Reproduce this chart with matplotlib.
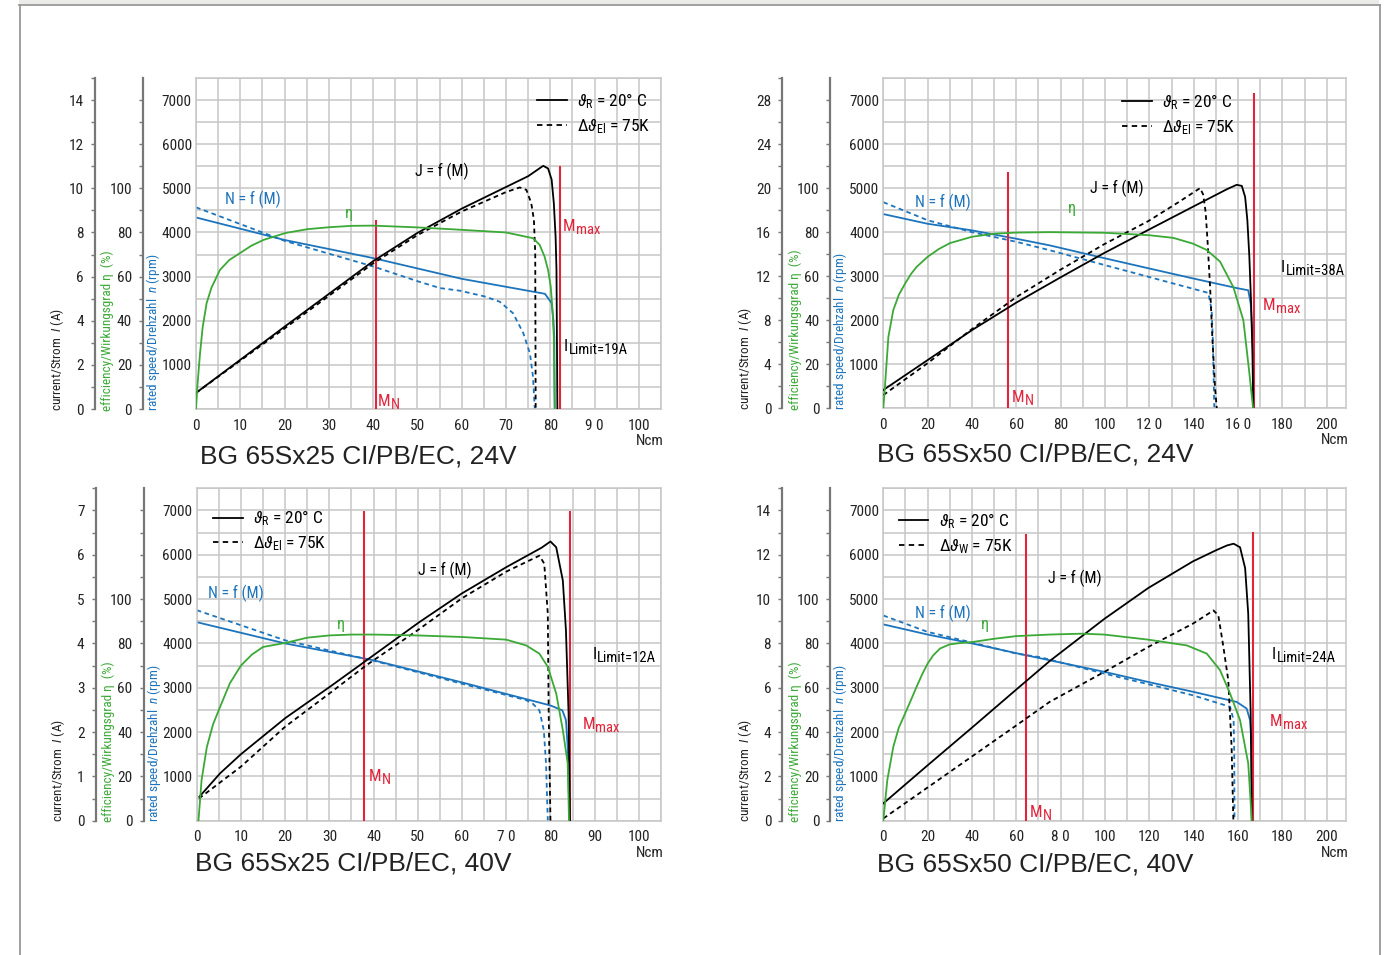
import numpy as np
import matplotlib
matplotlib.use("Agg")
import matplotlib.pyplot as plt
from matplotlib import font_manager
from matplotlib.lines import Line2D
from matplotlib.patches import Rectangle

installed = {f.name for f in font_manager.fontManager.ttflist}
NARROW = next((n for n in ["Liberation Sans Narrow", "Roboto Condensed", "Open Sans Condensed"]
               if n in installed), "DejaVu Sans")
WIDE = "Liberation Sans" if "Liberation Sans" in installed else "DejaVu Sans"
plt.rcParams["font.family"] = [NARROW, "DejaVu Sans"]
if NARROW != "DejaVu Sans":
    plt.rcParams["mathtext.fontset"] = "custom"
    plt.rcParams["mathtext.rm"] = NARROW
    plt.rcParams["mathtext.it"] = NARROW + ":italic"
    plt.rcParams["mathtext.bf"] = NARROW + ":bold"
    plt.rcParams["mathtext.sf"] = NARROW

BLUE = "#1c74bd"
GREEN = "#3aa935"
RED = "#e3233a"
GRID = "#c6c6c6"
SPINE = "#777777"
INK = "#222222"

# ---- BG 65Sx25 CI/PB/EC, 24V ----
p1_speed_m = [0, 20, 40, 60, 78.8, 80.3, 80.7, 80.9, 81.0]
p1_speed = [4340, 3830, 3420, 2950, 2610, 2400, 2020, 1640, 0]
p1_speed_hot_m = [0, 20, 40, 50.2, 55.1, 59.6, 65.2, 68.6, 71.6, 73.9, 75.4, 76.1, 76.5]
p1_speed_hot = [4570, 3810, 3230, 2890, 2740, 2680, 2550, 2430, 2170, 1720, 1260, 730, 0]
p1_cur_m = [0, 20, 40, 50, 60, 70, 75, 78.4, 79.5, 80.3, 80.8, 81.2, 81.4, 81.6]
p1_cur = [0.73, 3.73, 6.7, 7.98, 9.08, 10.06, 10.55, 11.02, 10.9, 10.4, 9.33, 7.8, 6.3, 0]
p1_cur_hot_m = [0, 20, 40, 50, 60, 70, 73.1, 74.6, 75.7, 76.3, 76.6, 76.7]
p1_cur_hot = [0.73, 3.65, 6.6, 7.88, 8.95, 9.83, 10.04, 9.93, 9.33, 8.57, 7.06, 0]
p1_eff_m = [0, 0.3, 0.9, 1.5, 2.4, 3.5, 5.4, 7.5, 10.2, 12.5, 15.2, 20.3, 25.2, 30.2, 35.2,
            40, 50, 60, 70, 76.1, 77.6, 78.7, 79.5, 80.1, 80.5, 80.8, 81.0]
p1_eff = [0, 10, 25, 37, 48, 55, 63, 67.5, 71, 74, 76.6, 79.8, 81.5, 82.4, 83,
          83.1, 82.3, 81.2, 80, 77.4, 74.4, 69.1, 63, 55.5, 44.9, 32.8, 0]
p1_mn, p1_mn_top = 40.6, 4290
p1_mmax, p1_mmax_top = 82.2, 5510

# ---- BG 65Sx50 CI/PB/EC, 24V ----
p2_speed_m = [0, 20, 40, 60, 75, 99.6, 119.5, 139.6, 159.4, 164.6, 165.7, 166.6, 166.9]
p2_speed = [4410, 4190, 4040, 3850, 3700, 3410, 3180, 2950, 2730, 2680, 2380, 1630, 0]
p2_speed_hot_m = [0, 20, 40, 60, 75, 100, 120, 140, 146.6, 148.1, 148.6, 149.3]
p2_speed_hot = [4680, 4270, 4000, 3780, 3590, 3250, 2980, 2710, 2620, 2230, 1620, 0]
p2_cur_m = [0, 20, 40, 60, 80, 99.6, 119.5, 139.6, 155, 159.4, 161.7, 163.2, 164.2,
            165.1, 165.9, 166.5, 166.9]
p2_cur = [1.66, 4.38, 7.1, 9.6, 11.9, 14.1, 16.2, 18.3, 19.9, 20.3, 20.2, 19.2, 17.1,
          13.8, 9.5, 5.0, 0]
p2_cur_hot_m = [0, 20, 40, 60, 80, 99.6, 119.5, 133, 142.9, 144.3, 145.4, 146.3,
                147.4, 148.4, 149.6, 150.4]
p2_cur_hot = [1.2, 4.1, 7.2, 10.1, 12.6, 14.9, 17.0, 18.7, 20.0, 19.4, 17.8, 15.0,
              11.0, 6.5, 1.96, 0]
p2_eff_m = [0, 0.75, 2.3, 4.5, 7, 9.8, 12.5, 15, 20, 25, 30, 40, 50, 60, 75, 100, 120,
            130.8, 139.6, 145.9, 151.9, 157.9, 162.4, 165, 166.8]
p2_eff = [0, 10, 32.5, 44.6, 51.5, 56.6, 61, 64.2, 68.8, 72.3, 75, 77.9, 79.3, 79.8, 80,
          79.7, 78.6, 77.4, 74.8, 71.9, 66.6, 55, 40, 17, 0]
p2_mn, p2_mn_top = 56.1, 5360
p2_mmax, p2_mmax_top = 167.4, 7160

# ---- BG 65Sx25 CI/PB/EC, 40V ----
p3_speed_m = [0, 20, 40, 60, 80, 82.7, 83.5, 83.9, 84.1, 84.3]
p3_speed = [4480, 4000, 3620, 3120, 2600, 2490, 2270, 1670, 920, 0]
p3_speed_hot_m = [0, 20, 40, 60, 74.5, 76, 77.5, 78.5, 79, 79.4]
p3_speed_hot = [4750, 4070, 3610, 3090, 2720, 2640, 2490, 2040, 1290, 0]
p3_cur_m = [0.6, 5.3, 10, 20.1, 30.1, 36.9, 50.2, 60, 70, 78, 80, 81.3, 82.8, 83.5, 84.1,
            84.4]
p3_cur = [0.54, 1.07, 1.5, 2.32, 3.02, 3.51, 4.47, 5.13, 5.72, 6.16, 6.3, 6.17, 5.42, 4.3,
          2.42, 0]
p3_cur_hot_m = [0.5, 10, 20, 30, 38.4, 50, 60, 70, 75, 77.5, 78.6, 79.4, 79.6, 80]
p3_cur_hot = [0.5, 1.22, 2.12, 2.87, 3.51, 4.3, 5.02, 5.62, 5.86, 5.98, 5.8, 4.67, 2.42, 0]
p3_eff_m = [0.4, 1.1, 2.3, 3.7, 5.3, 7.5, 10, 12.5, 15, 20, 25, 30, 35, 40, 50, 60, 70,
            74.5, 77.5, 79.4, 81.3, 82.8, 83.9, 84.2]
p3_eff = [0, 18.3, 33.3, 43.5, 51.4, 62, 70, 75, 78.4, 80.2, 82.6, 83.6, 84, 84, 83.6,
          82.9, 81.7, 79.1, 75.4, 69.4, 57.4, 40.9, 25.9, 0]
p3_mn, p3_mn_top = 37.8, 6980
p3_mmax, p3_mmax_top = 84.5, 6980

# ---- BG 65Sx50 CI/PB/EC, 40V ----
p4_speed_m = [0, 20, 40, 60, 75, 99.6, 119.5, 139.6, 159.4, 163.9, 165.4, 166.3, 166.6]
p4_speed = [4430, 4200, 4000, 3780, 3620, 3360, 3130, 2910, 2680, 2530, 2270, 1670, 0]
p4_speed_hot_m = [0, 20, 40, 60, 70.7, 99.6, 119.5, 139.6, 156.4, 158.0, 158.3, 158.4]
p4_speed_hot = [4630, 4260, 4020, 3770, 3690, 3320, 3080, 2830, 2570, 2270, 1500, 0]
p4_cur_m = [0, 20, 40, 60, 75, 99.6, 119.5, 139.6, 150, 155, 158, 160.9, 163.2, 164.6,
            165.7, 166.2]
p4_cur = [0.78, 2.5, 4.2, 5.92, 7.2, 9.1, 10.5, 11.7, 12.2, 12.42, 12.5, 12.34, 11.4, 9.34,
          4.84, 0]
p4_cur_hot_m = [0, 20, 40, 60, 75, 99.6, 119.5, 139.6, 146, 148.9, 151.1, 153.4, 155.6,
                157.1, 157.9]
p4_cur_hot = [0.1, 1.5, 2.9, 4.3, 5.36, 6.71, 7.84, 8.89, 9.3, 9.49, 9.27, 7.84, 6.34,
              3.33, 0]
p4_eff_m = [0, 1.8, 4.5, 7, 9.8, 12.5, 15, 17.5, 20, 22.5, 25.6, 30, 35, 40, 50, 60, 75,
            89.5, 99.6, 119.5, 136.9, 145.9, 151.9, 156.4, 160.9, 164.6, 166.2]
p4_eff = [0, 18.3, 33.3, 42, 48.3, 54.5, 60.4, 66, 70.9, 74.6, 77.7, 79.6, 80.2, 80.6,
          82.1, 83.3, 84, 84.4, 84, 81.7, 79.1, 75.4, 67.9, 57.4, 45.4, 25.9, 0]
p4_mn, p4_mn_top = 64.2, 6470
p4_mmax, p4_mmax_top = 166.9, 6510

rpm_ticks = [1000, 2000, 3000, 4000, 5000, 6000, 7000]
eff_ticks = [0, 20, 40, 60, 80, 100]
x_ticks_100 = [0, 10, 20, 30, 40, 50, 60, 70, 80, 90, 100]
x_ticks_200 = [0, 20, 40, 60, 80, 100, 120, 140, 160, 180, 200]
p1_xlabels = ["0", "10", "20", "30", "40", "50", "60", "70", "80", "9 0", "100"]
p2_xlabels = ["0", "20", "40", "60", "80", "100", "12 0", "140", "16 0", "180", "200"]
p3_xlabels = ["0", "10", "20", "30", "40", "50", "60", "7 0", "80", "90", "100"]
p4_xlabels = ["0", "20", "40", "60", "8 0", "100", "120", "140", "160", "180", "200"]

W, H = 1397, 955
fig = plt.figure(figsize=(W / 100, H / 100), dpi=100)
fig.patch.set_facecolor("white")

# page frame
fig.add_artist(Rectangle((19 / W, 1 - 5 / H), 1360 / W, 5 / H, transform=fig.transFigure,
                         color="#ebecea", lw=0))
fig.add_artist(Line2D([19 / W, 1380 / W], [1 - 5.5 / H] * 2, transform=fig.transFigure,
                      color="#999999", lw=1.3))
for xx in (19.5, 1379.5):
    fig.add_artist(Line2D([xx / W] * 2, [0, 1 - 5 / H], transform=fig.transFigure,
                          color="#999999", lw=1.3))

DASH = (0, (2.6, 2.0))


def side_axis(ax, top, major, minor, labels, offset_px):
    a = ax.twinx()
    a.set_ylim(0, top)
    a.yaxis.tick_left()
    for k in ("top", "right", "bottom"):
        a.spines[k].set_visible(False)
    a.spines["left"].set_visible(True)
    a.spines["left"].set_position(("outward", offset_px * 0.72))
    a.spines["left"].set_color(SPINE)
    a.spines["left"].set_linewidth(1.6)
    a.set_yticks(major, labels)
    a.set_yticks(minor, minor=True)
    a.tick_params(which="both", direction="out", length=3, width=1, color=SPINE,
                  pad=5, labelsize=11, labelcolor=INK)
    return a


def sub_label(ax, x, y, main, sub, color, size=12):
    t = ax.text(x, y, main, color=color, fontsize=size, ha="left", va="center", zorder=5)
    ax.annotate(sub, xy=(1, 0), xycoords=t, xytext=(0.3, 0), textcoords="offset points",
                color=color, fontsize=size * 0.88, ha="left", va="baseline", zorder=5)


def panel(rect, title, title_at, xmax, xgrid, xticks, xlabels, imax, i_major, i_minor,
          speed_m, speed, speed_hot_m, speed_hot, cur_m, cur, cur_hot_m, cur_hot,
          eff_m, eff, mn, mn_top, mmax, mmax_top, texts, subs, legend_at, legend_labels):
    ax = fig.add_axes(rect)
    ax.set_xlim(0, xmax)
    ax.set_ylim(0, 7500)
    ax.set_xticks(np.arange(0, xmax + 0.01, xgrid), minor=True)
    ax.set_yticks(np.arange(0, 7501, 500), minor=True)
    ax.set_xticks(xticks, xlabels)
    ax.set_yticks(rpm_ticks, [str(v) for v in rpm_ticks])
    ax.grid(True, which="both", color=GRID, lw=1.1)
    ax.set_axisbelow(True)
    ax.tick_params(which="both", length=0, labelsize=11, labelcolor=INK)
    ax.tick_params(axis="x", pad=7)
    ax.tick_params(axis="y", pad=3)
    for s in ax.spines.values():
        s.set_color(GRID)
        s.set_linewidth(1.1)

    ax_i = side_axis(ax, imax, i_major, i_minor, [str(v) for v in i_major], 101)
    ax_e = side_axis(ax, 150, eff_ticks, np.arange(0, 141, 10),
                     [str(v) for v in eff_ticks], 53)

    ax.vlines([mn], 0, [mn_top], color=RED, lw=1.5, zorder=3)
    ax.vlines([mmax], 0, [mmax_top], color=RED, lw=1.5, zorder=3)

    ax.plot(speed_m, speed, color=BLUE, lw=1.3)
    ax.plot(speed_hot_m, speed_hot, color=BLUE, lw=1.3, ls=DASH)
    ax_e.plot(eff_m, eff, color=GREEN, lw=1.3)
    ax_i.plot(cur_m, cur, color="black", lw=1.3)
    ax_i.plot(cur_hot_m, cur_hot, color="black", lw=1.3, ls=DASH)

    for (x, y, s, c, ha) in texts:
        ax.text(x, y, s, color=c, fontsize=11.5, ha=ha, va="center", zorder=5)
    for (x, y, main, sub, c) in subs:
        sub_label(ax, x, y, main, sub, c)

    handles = [Line2D([], [], color="black", lw=1.3),
               Line2D([], [], color="black", lw=1.3, ls=(0, (3, 2.4)))]
    ax.legend(handles, legend_labels, loc="upper left", bbox_to_anchor=legend_at,
              bbox_transform=ax.transData, frameon=False, fontsize=12.5,
              handlelength=1.7, handletextpad=0.6, labelspacing=0.35,
              borderpad=0, borderaxespad=0)

    ax.text(1.005, -0.097, "Ncm", transform=ax.transAxes, ha="right", va="center",
            fontsize=11, color=INK)
    ax.text(title_at[0], title_at[1], title, transform=ax.transAxes, ha="left",
            va="center", fontsize=19, family=WIDE, color=INK)
    ax.text(-0.299, -0.005, r"current/Strom  $I$ (A)", transform=ax.transAxes,
            rotation=90, ha="center", va="bottom", fontsize=9.5, color=INK)
    ax.text(-0.191, -0.005, "efficiency/Wirkungsgrad η  (%)", transform=ax.transAxes,
            rotation=90, ha="center", va="bottom", fontsize=9.5, color=GREEN)
    ax.text(-0.093, -0.005, r"rated speed/Drehzahl  $n$ (rpm)", transform=ax.transAxes,
            rotation=90, ha="center", va="bottom", fontsize=9.5, color=BLUE)
    return ax


LEG_EL = [r"$\vartheta_{\rm R}$ = 20° C", r"Δ$\vartheta_{\rm El}$ = 75K"]
LEG_W = [r"$\vartheta_{\rm R}$ = 20° C", r"Δ$\vartheta_{\rm W}$ = 75K"]

panel([196 / W, 1 - 409 / H, 465 / W, 331 / H], "BG 65Sx25 CI/PB/EC, 24V", (0.009, -0.145),
      105, 5, x_ticks_100, p1_xlabels, 15, list(range(0, 15, 2)), list(range(0, 16)),
      p1_speed_m, p1_speed, p1_speed_hot_m, p1_speed_hot, p1_cur_m, p1_cur,
      p1_cur_hot_m, p1_cur_hot, p1_eff_m, p1_eff, p1_mn, p1_mn_top, p1_mmax, p1_mmax_top,
      [(49.4, 5380, "J = f (M)", "black", "left"),
       (6.5, 4740, "N = f (M)", BLUE, "left"),
       (34.5, 4440, "η", GREEN, "center")],
      [(83.1, 1410, "I", "Limit=19A", "black"),
       (82.8, 4130, "M", "max", RED),
       (41.1, 180, "M", "N", RED)],
      (77.0, 7200), LEG_EL)

panel([883.3 / W, 1 - 408.3 / H, 462.7 / W, 330.3 / H], "BG 65Sx50 CI/PB/EC, 24V",
      (-0.0136, -0.139), 208.7, 10, x_ticks_200, p2_xlabels, 30, list(range(0, 29, 4)),
      list(range(0, 31, 2)),
      p2_speed_m, p2_speed, p2_speed_hot_m, p2_speed_hot, p2_cur_m, p2_cur,
      p2_cur_hot_m, p2_cur_hot, p2_eff_m, p2_eff, p2_mn, p2_mn_top, p2_mmax, p2_mmax_top,
      [(93.2, 5000, "J = f (M)", "black", "left"),
       (14.3, 4680, "N = f (M)", BLUE, "left"),
       (85.1, 4540, "η", GREEN, "center")],
      [(179.4, 3200, "I", "Limit=38A", "black"),
       (171.3, 2340, "M", "max", RED),
       (58.0, 255, "M", "N", RED)],
      (107.7, 7180), LEG_EL)

panel([196.7 / W, 1 - 820.7 / H, 464.3 / W, 332.4 / H], "BG 65Sx25 CI/PB/EC, 40V",
      (-0.004, -0.13), 105, 5, x_ticks_100, p3_xlabels, 7.5, list(range(0, 8)),
      list(np.arange(0, 7.6, 0.5)),
      p3_speed_m, p3_speed, p3_speed_hot_m, p3_speed_hot, p3_cur_m, p3_cur,
      p3_cur_hot_m, p3_cur_hot, p3_eff_m, p3_eff, p3_mn, p3_mn_top, p3_mmax, p3_mmax_top,
      [(50.0, 5650, "J = f (M)", "black", "left"),
       (2.6, 5130, "N = f (M)", BLUE, "left"),
       (32.6, 4430, "η", GREEN, "center")],
      [(89.5, 3760, "I", "Limit=12A", "black"),
       (87.2, 2180, "M", "max", RED),
       (38.9, 1000, "M", "N", RED)],
      (3.7, 7040), LEG_EL)

panel([883.3 / W, 1 - 820.7 / H, 462.7 / W, 332.4 / H], "BG 65Sx50 CI/PB/EC, 40V",
      (-0.014, -0.133), 208.7, 10, x_ticks_200, p4_xlabels, 15, list(range(0, 15, 2)),
      list(range(0, 16)),
      p4_speed_m, p4_speed, p4_speed_hot_m, p4_speed_hot, p4_cur_m, p4_cur,
      p4_cur_hot_m, p4_cur_hot, p4_eff_m, p4_eff, p4_mn, p4_mn_top, p4_mmax, p4_mmax_top,
      [(74.3, 5460, "J = f (M)", "black", "left"),
       (14.3, 4680, "N = f (M)", BLUE, "left"),
       (45.9, 4430, "η", GREEN, "center")],
      [(175.3, 3750, "I", "Limit=24A", "black"),
       (174.4, 2240, "M", "max", RED),
       (66.2, 190, "M", "N", RED)],
      (7.0, 6980), LEG_W)

fig.savefig("out.png", dpi=100)
